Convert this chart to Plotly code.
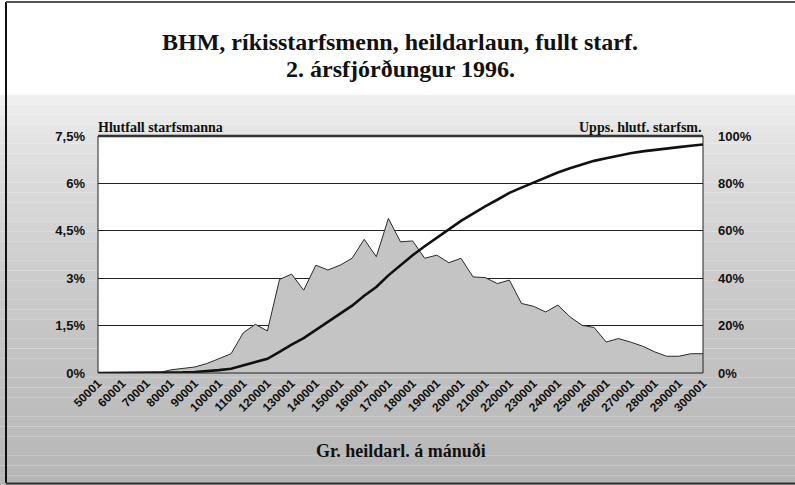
import plotly.graph_objects as go

# ---- data ----
categories = [str(50001 + 5000 * i) for i in range(51)]
share_pct = [0, 0, 0, 0, 0, 0, 0.1, 0.15, 0.19, 0.3, 0.45, 0.61,
             1.27, 1.54, 1.33, 2.96, 3.13, 2.62, 3.41, 3.26, 3.41, 3.63,
             4.23, 3.68, 4.89, 4.15, 4.18, 3.63, 3.73, 3.49, 3.63, 3.04,
             3.02, 2.83, 2.94, 2.2, 2.11, 1.93, 2.15, 1.78, 1.51, 1.44,
             0.98, 1.09, 0.98, 0.85, 0.67, 0.53, 0.53, 0.61, 0.61]
cumulative_pct = [0, 0, 0, 0, 0, 0, 0.1, 0.25, 0.45, 0.75, 1.2, 1.8,
                  3.1, 4.6, 6.0, 8.9, 12.0, 14.7, 18.1, 21.3, 24.7, 28.4,
                  32.6, 36.3, 41.2, 45.6, 49.7, 53.5, 57.2, 60.6, 64.2, 67.3,
                  70.3, 73.1, 76.0, 78.2, 80.4, 82.4, 84.6, 86.4, 88.0, 89.5,
                  90.6, 91.7, 92.7, 93.5, 94.2, 94.7, 95.3, 95.9, 96.4]
left_ticks = [0, 1.5, 3, 4.5, 6, 7.5]
left_ticktext = ["0%", "1,5%", "3%", "4,5%", "6%", "7,5%"]
right_ticks = [0, 20, 40, 60, 80, 100]
right_ticktext = ["0%", "20%", "40%", "60%", "80%", "100%"]
x_ticks = categories[::2]

TITLE_1 = "BHM, ríkisstarfsmenn, heildarlaun, fullt starf."
TITLE_2 = "2. ársfjórðungur 1996."
LEFT_TITLE = "Hlutfall starfsmanna"
RIGHT_TITLE = "Upps. hlutf. starfsm."
X_TITLE = "Gr. heildarl. á mánuði"

# ---- geometry helpers (pixel -> paper) ----
W, H = 795, 485
L, R, T, B = 98, 703, 136, 373
def px(x):
    return (x - L) / (R - L)
def py(y):
    return (B - y) / (B - T)

SERIF = "Liberation Serif"
SANS = "Liberation Sans"
INK = "#111111"

fig = go.Figure()
fig.add_trace(go.Scatter(
    x=categories, y=share_pct, mode="lines", fill="tozeroy",
    fillcolor="#c4c4c4", line=dict(color="#2a2a2a", width=1),
    hoverinfo="skip", showlegend=False))
fig.add_trace(go.Scatter(
    x=categories, y=cumulative_pct, mode="lines", yaxis="y2",
    line=dict(color="#111111", width=2.6), hoverinfo="skip", showlegend=False))

shapes = []
# background stipple gradient (bands)
top_px, n = 95, 40
for k in range(n):
    y0 = top_px + (H - top_px) * k / n
    y1 = top_px + (H - top_px) * (k + 1) / n
    t = (k + 0.5) / n
    g = int(244 - (244 - 182) * (t ** 0.6))
    col = f"rgb({g},{g},{g})"
    shapes.append(dict(type="rect", xref="paper", yref="paper",
                       x0=px(0), x1=px(W + 5), y0=py(y1), y1=py(y0),
                       fillcolor=col, line=dict(width=0), layer="below"))
# white plot area
shapes.append(dict(type="rect", xref="paper", yref="paper", x0=0, x1=1, y0=0, y1=1,
                   fillcolor="white", line=dict(width=0), layer="below"))
# plot frame
shapes.append(dict(type="rect", xref="paper", yref="paper", x0=0, x1=1, y0=0, y1=1,
                   line=dict(color="#222222", width=1), layer="above"))
shapes.append(dict(type="line", xref="paper", yref="paper", x0=0, x1=1, y0=1, y1=1,
                   line=dict(color="#333333", width=2.5), layer="above"))
# outer page border
shapes.append(dict(type="line", xref="paper", yref="paper", x0=px(6), x1=px(6),
                   y0=py(2), y1=py(483), line=dict(color="#111111", width=2)))
shapes.append(dict(type="line", xref="paper", yref="paper", x0=px(6), x1=px(W + 5),
                   y0=py(2), y1=py(2), line=dict(color="#555555", width=2)))
shapes.append(dict(type="line", xref="paper", yref="paper", x0=px(6), x1=px(W + 5),
                   y0=py(483.5), y1=py(483.5), line=dict(color="#333333", width=2)))

annotations = [
    dict(text=TITLE_1, xref="paper", yref="paper", x=px(400), y=py(42),
         showarrow=False, font=dict(family=SERIF, size=24, color=INK, weight="bold"),
         xanchor="center", yanchor="middle"),
    dict(text=TITLE_2, xref="paper", yref="paper", x=px(400), y=py(69),
         showarrow=False, font=dict(family=SERIF, size=24, color=INK, weight="bold"),
         xanchor="center", yanchor="middle"),
    dict(text=LEFT_TITLE, xref="paper", yref="paper", x=px(96), y=py(127),
         showarrow=False, font=dict(family=SERIF, size=14, color=INK, weight="bold"),
         xanchor="left", yanchor="middle"),
    dict(text=RIGHT_TITLE, xref="paper", yref="paper", x=px(704), y=py(127),
         showarrow=False, font=dict(family=SERIF, size=14, color=INK, weight="bold"),
         xanchor="right", yanchor="middle"),
    dict(text=X_TITLE, xref="paper", yref="paper", x=px(401), y=py(451),
         showarrow=False, font=dict(family=SERIF, size=18, color=INK, weight="bold"),
         xanchor="center", yanchor="middle"),
]

fig.update_layout(
    width=W, height=H,
    margin=dict(l=L, r=W - R, t=T, b=H - B, pad=0),
    paper_bgcolor="white", plot_bgcolor="white",
    shapes=shapes, annotations=annotations,
    xaxis=dict(type="category", range=[0, 50], tickmode="array", tickvals=x_ticks,
               ticktext=x_ticks, tickangle=-45, showgrid=False, ticks="",
               automargin=False,
               tickfont=dict(family=SANS, size=12, color=INK, weight="bold"), zeroline=False),
    yaxis=dict(range=[0, 7.5], tickvals=left_ticks, ticktext=left_ticktext,
               showgrid=True, gridcolor="#222222", gridwidth=1, zeroline=False,
               ticks="", ticklabelstandoff=12, automargin=False,
               tickfont=dict(family=SANS, size=13, color=INK, weight="bold")),
    yaxis2=dict(range=[0, 100], tickvals=right_ticks, ticktext=right_ticktext,
                overlaying="y", side="right", showgrid=False, zeroline=False,
                ticks="", ticklabelstandoff=14, automargin=False,
                tickfont=dict(family=SANS, size=13, color=INK, weight="bold")),
)

fig.write_html("out.html", config={"displayModeBar": False},
               post_script="document.body.style.margin='0';document.body.style.overflow='hidden';")
